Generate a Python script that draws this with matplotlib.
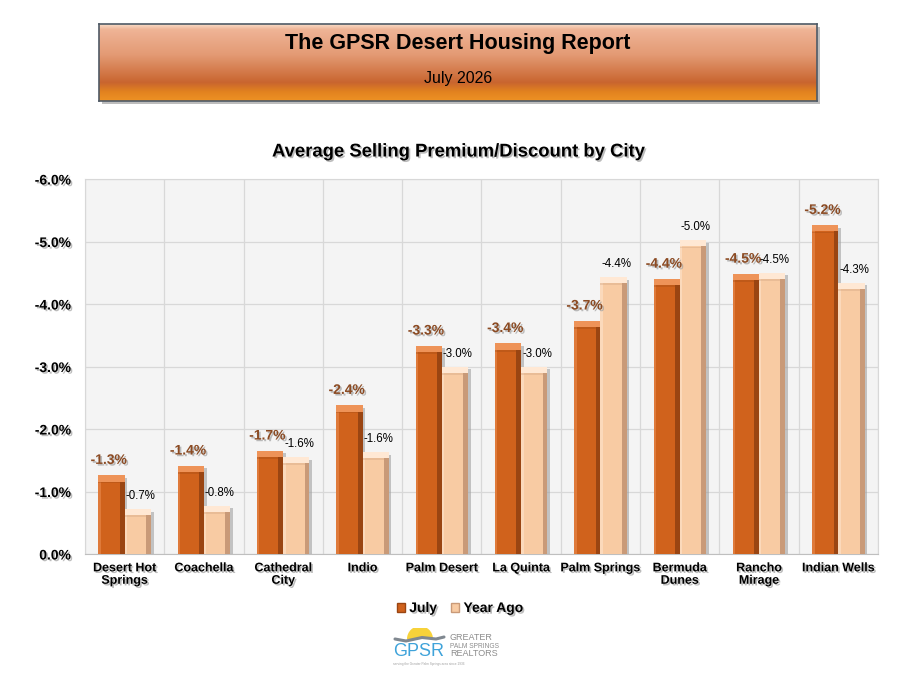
import matplotlib
matplotlib.use("Agg")
import matplotlib.pyplot as plt
import matplotlib.patheffects as pe
import matplotlib.colors as mcolors
from matplotlib.patches import Wedge, Patch
import numpy as np

# ---- data ----
cities = ["Desert Hot\nSprings", "Coachella", "Cathedral\nCity", "Indio", "Palm Desert",
          "La Quinta", "Palm Springs", "Bermuda\nDunes", "Rancho\nMirage", "Indian Wells"]
july = [-1.26, -1.41, -1.65, -2.38, -3.33, -3.37, -3.73, -4.40, -4.48, -5.26]
year_ago = [-0.72, -0.77, -1.55, -1.63, -3.00, -3.00, -4.43, -5.02, -4.50, -4.34]
july_labels = ["-1.3%", "-1.4%", "-1.7%", "-2.4%", "-3.3%", "-3.4%", "-3.7%", "-4.4%", "-4.5%", "-5.2%"]
ya_labels = ["-0.7%", "-0.8%", "-1.6%", "-1.6%", "-3.0%", "-3.0%", "-4.4%", "-5.0%", "-4.5%", "-4.3%"]
yticks = [0, -1, -2, -3, -4, -5, -6]
ytick_labels = ["0.0%", "-1.0%", "-2.0%", "-3.0%", "-4.0%", "-5.0%", "-6.0%"]
series_names = ["July", "Year Ago"]

plt.rcParams['font.family'] = ['Liberation Sans', 'DejaVu Sans']

W, H = 920, 677
fig = plt.figure(figsize=(W / 100, H / 100), dpi=100)
fig.patch.set_facecolor("white")

def fx(px):
    return px / W

def fy(py):
    return 1 - py / H

def shadow_effect(off=1.2, col="#A0A0A0", a=0.7):
    return [pe.withSimplePatchShadow(offset=(off, -off), shadow_rgbFace=col, alpha=a)]

# ---- banner ----
bx0, bx1, by0, by1 = 99, 817, 24, 101
sax = fig.add_axes([fx(bx0 + 3), fy(by1 + 3), fx(bx1 - bx0), (by1 - by0) / H], zorder=1)
sax.set_facecolor("#BDBDBD")
sax.set_xticks([]); sax.set_yticks([])
for s in sax.spines.values():
    s.set_visible(False)
bax = fig.add_axes([fx(bx0), fy(by1), fx(bx1 - bx0), (by1 - by0) / H], zorder=2)
stops = [(0.0, "#F8DCC8"), (0.07, "#EFB496"), (0.4, "#E39A74"), (0.76, "#C9652F"),
         (0.88, "#E2821F"), (1.0, "#EE9224")]
t = np.linspace(0, 1, 200)
sp = [s[0] for s in stops]
rgb = np.array([mcolors.to_rgb(s[1]) for s in stops])
grad = np.stack([np.interp(t, sp, rgb[:, k]) for k in range(3)], axis=1)
bax.imshow(grad[:, None, :], aspect="auto", extent=[0, 1, 0, 1], origin="upper")
bax.set_xlim(0, 1); bax.set_ylim(0, 1)
bax.set_xticks([]); bax.set_yticks([])
for s in bax.spines.values():
    s.set_color("#4F5A66"); s.set_linewidth(1.2)
fig.text(fx(458), fy(43), "The GPSR Desert Housing Report", ha="center", va="center",
         fontsize=15.5, fontweight="bold", color="black", zorder=5)
fig.text(fx(458), fy(79), "July 2026", ha="center", va="center", fontsize=11.5, color="black", zorder=5)

# ---- chart ----
ax0, ax1, ay0, ay1 = 85, 878, 179, 554
ax = fig.add_axes([fx(ax0), fy(ay1), fx(ax1 - ax0), (ay1 - ay0) / H])
ax.set_facecolor("#F4F4F4")
x = np.arange(len(cities))
bw = 0.33

def draw_bars(xs, vals, main, dark, light):
    vals = np.array(vals)
    # drop shadow
    ax.bar(xs + 0.035, vals + 0.04, width=bw, color="#9A9A9A", alpha=0.55, zorder=2)
    ax.bar(xs, vals, width=bw, color=main, zorder=3)
    # right dark edge
    ax.bar(xs + bw / 2 - 0.03, vals, width=0.06, color=dark, zorder=4)
    # left light edge
    ax.bar(xs - bw / 2 + 0.015, vals, width=0.03, color=light, alpha=0.5, zorder=4)
    # top bevel (inside the bar)
    ax.bar(xs, [0.1] * len(vals), bottom=vals, width=bw, color=light, zorder=5)
    ax.bar(xs, [0.03] * len(vals), bottom=vals + 0.1, width=bw, color=dark, alpha=0.3, zorder=5)

xj = x - bw / 2
xy = x + bw / 2
draw_bars(xj, july, "#D0621C", "#9A4512", "#EE9358")
draw_bars(xy, year_ago, "#F8CBA3", "#C99A78", "#FFE8D4")

ax.set_xlim(-0.5, len(cities) - 0.5)
ax.set_ylim(0, -6)
ax.set_yticks(yticks)
ax.set_yticklabels(ytick_labels)
ax.set_xticks(x)
ax.set_xticklabels(cities)
ax.set_xticks(np.arange(-0.5, len(cities)), minor=True)
ax.grid(True, axis="y", color="#D8D8D8", linewidth=0.9, zorder=0)
ax.grid(True, axis="x", which="minor", color="#D8D8D8", linewidth=0.9, zorder=0)
ax.grid(False, axis="x", which="major")
ax.set_axisbelow(True)
ax.tick_params(axis="both", which="both", length=0)
ax.tick_params(axis="y", pad=10)
ax.tick_params(axis="x", pad=6)
for s in ["top", "right", "left"]:
    ax.spines[s].set_color("#D8D8D8")
ax.spines["bottom"].set_color("#BFBFBF")

for lab in ax.get_yticklabels():
    lab.set_fontsize(10); lab.set_fontweight("bold")
for lab in ax.get_xticklabels():
    lab.set_fontsize(9); lab.set_fontweight("bold"); lab.set_linespacing(1.05)
for lab in ax.get_yticklabels() + ax.get_xticklabels():
    lab.set_path_effects(shadow_effect())

# data labels
for xi, v, l in zip(xj, july, july_labels):
    ax.annotate(l, (xi, v), xytext=(-2, 6), textcoords="offset points", ha="center", va="bottom",
                fontsize=10, fontweight="bold", color="#8B4A22", zorder=8,
                path_effects=shadow_effect())
for xi, v, l in zip(xy, year_ago, ya_labels):
    ax.annotate(l, (xi, v), xytext=(2, 5), textcoords="offset points", ha="center", va="bottom",
                fontsize=8.3, color="black", zorder=8)

fig.text(fx(458), fy(152), "Average Selling Premium/Discount by City", ha="center", va="center",
         fontsize=13.3, fontweight="bold", color="black", path_effects=shadow_effect())

# ---- legend ----
handles = [Patch(facecolor="#D0621C", edgecolor="#9A4512"), Patch(facecolor="#F8CBA3", edgecolor="#C99A78")]
leg = fig.legend(handles, series_names, loc="center", bbox_to_anchor=(fx(460), fy(608)), ncol=2,
                 frameon=False, handlelength=0.6, handleheight=0.6, handletextpad=0.3,
                 columnspacing=1.0, prop={"weight": "bold", "size": 10})
for tx in leg.get_texts():
    tx.set_path_effects(shadow_effect())

# ---- logo ----
lax = fig.add_axes([fx(392), fy(668), fx(108), 40 / H])
lax.set_xlim(0, 108); lax.set_ylim(0, 40)
lax.axis("off")
lax.add_patch(Wedge((28, 29), 13, 0, 180, facecolor="#F7D23A", edgecolor="none"))
lax.plot([3, 14, 30, 44, 52], [29, 27, 30.5, 29, 31], color="#808890", lw=2.2, solid_capstyle="round")
lax.text(1, 17, "GPSR", fontsize=13, color="#3FA3DA", va="center", ha="left")
lax.text(58, 31, "GREATER", fontsize=6.5, color="#8C8C8C", va="center", ha="left")
lax.text(58, 22, "PALM SPRINGS", fontsize=4.8, color="#8C8C8C", va="center", ha="left")
lax.text(58, 14, "REALTORS", fontsize=6.5, color="#8C8C8C", va="center", ha="left")
lax.text(1, 4, "serving the Greater Palm Springs area since 1936", fontsize=2.3, color="#A0A0A0",
         va="center", ha="left")

fig.savefig("out.png", dpi=100)
